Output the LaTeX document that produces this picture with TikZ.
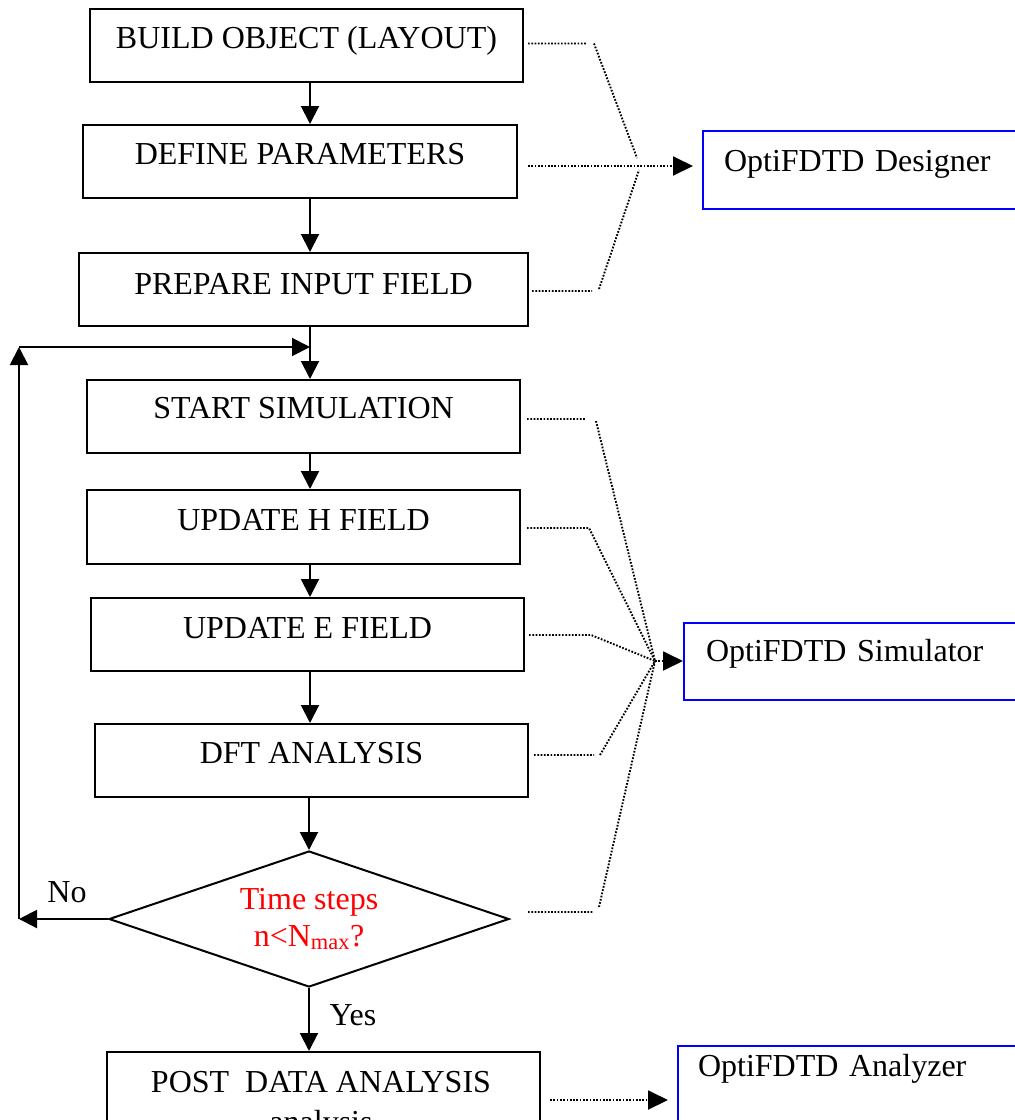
\documentclass[tikz,border=0pt]{standalone}
\usepackage{fontspec}
\setmainfont{Liberation Serif}
\usetikzlibrary{arrows.meta,shapes.geometric}
\begin{document}
\begin{tikzpicture}[x=1pt,y=-1pt,
  font=\fontsize{32}{37}\selectfont,
  box/.style={draw, line width=2pt, inner xsep=0pt, inner ysep=0pt, anchor=north west},
  bluebox/.style={draw=blue, line width=2pt, inner ysep=0pt, anchor=north west, align=left, text width=300pt},
  arr/.style={line width=2pt, -{Triangle[length=18pt,width=18pt]}},
  dotline/.style={line width=1.9pt, dash pattern=on 1.7pt off 1.6pt},
  dotarr/.style={dotline, -{Triangle[length=20pt,width=19pt]}},
  lbl/.style={anchor=base, inner sep=0pt}
]
\useasboundingbox (0,0) rectangle (1015,1120);
\clip (0,0) rectangle (1015,1120);

% main flow boxes
\node[box, minimum width=433pt, minimum height=73pt, text height=39pt, text depth=34pt] (b1) at (89,8) {BUILD OBJECT (LAYOUT)};
\node[box, minimum width=434pt, minimum height=73pt, text height=39pt, text depth=34pt] (b2) at (82,124) {DEFINE PARAMETERS};
\node[box, minimum width=449pt, minimum height=73pt, text height=41pt, text depth=32pt] (b3) at (78,252) {PREPARE INPUT FIELD};
\node[box, minimum width=433pt, minimum height=73pt, text height=38pt, text depth=35pt] (b4) at (86,379) {START SIMULATION};
\node[box, minimum width=433pt, minimum height=74pt, text height=40pt, text depth=34pt] (b5) at (86,489) {UPDATE H FIELD};
\node[box, minimum width=433pt, minimum height=73pt, text height=40pt, text depth=33pt] (b6) at (90,597) {UPDATE E FIELD};
\node[box, minimum width=433pt, minimum height=73pt, text height=39pt, text depth=34pt] (b7) at (94,723) {DFT ANALYSIS};
\node[draw, diamond, aspect=2.9, line width=2pt, minimum width=400pt, minimum height=136pt, inner sep=0pt, text=red, align=center] (dia) at (309,919) {Time steps\\n<N\textsubscript{max}?};
\node[box, minimum width=433pt, minimum height=120pt] (b8) at (106,1051) {};
\node[lbl] (t8a) at (321,1092) {POST\ \ DATA ANALYSIS};
\node[lbl] (t8b) at (321,1132) {analysis};

% tool boxes
\node[bluebox, inner xsep=21pt, text height=40pt, text depth=38pt] (dsg) at (702,130) {OptiFDTD Designer};
\node[bluebox, inner xsep=22pt, text height=38pt, text depth=39pt] (sim) at (683,622) {OptiFDTD Simulator};
\node[bluebox, inner xsep=20pt, text height=30pt, text depth=60pt] (ana) at (677,1045) {OptiFDTD Analyzer};

% labels
\node[lbl] (no) at (67,902) {No};
\node[lbl] (yes) at (353,1025) {Yes};

% solid flow arrows
\coordinate (ax) at (310,0);
\draw[arr] (b1.south -| ax) -- (b2.north -| ax);
\draw[arr] (b2.south -| ax) -- (b3.north -| ax);
\draw[arr] (b3.south -| ax) -- (b4.north -| ax);
\draw[arr] (b4.south -| ax) -- (b5.north -| ax);
\draw[arr] (b5.south -| ax) -- (b6.north -| ax);
\draw[arr] (b6.south -| ax) -- (b7.north -| ax);
\draw[arr] (b7.south -| dia.north) -- (dia.north);
\draw[arr] (dia.south) -- (b8.north -| dia.south);

% loop back
\coordinate (lpB) at (19,919);
\coordinate (lpT) at (19,347);
\draw[arr] (dia.west) -- (lpB);
\draw[arr] (lpB) -- (lpT);
\draw[arr] (lpT) -- (lpT -| ax);

% dotted to Designer
\coordinate (cD1) at (637,158);
\coordinate (cD) at (638,166);
\coordinate (cD2) at (639,170);
\draw[dotline] (b1.east) ++(4,-2) -- ++(59,0) ++(7,0) -- (cD1);
\draw[dotarr, shorten <=10pt, shorten >=9pt] (b2.east |- cD) -- (dsg.west |- cD);
\draw[dotline] (b3.east) ++(3,1.5) -- ++(60,0) ++(7,-2) -- (cD2);

% dotted to Simulator
\coordinate (cS) at (655,661);
\draw[dotline] (b4.east) ++(6,2.5) -- ++(58,0) ++(11,2) -- (cS);
\draw[dotline] (b5.east) ++(6,1) -- ++(62,0) -- (cS);
\draw[dotline] (b6.east) ++(4,0.5) -- ++(62,0) -- (cS);
\draw[dotline] (b7.east) ++(5,-5.5) -- ++(60,0) ++(6,0) -- (cS);
\draw[dotline] (dia.east) ++(18,-7) -- ++(65,0) ++(6,-5) -- (cS);
\draw[dotarr] (cS) -- (sim.west |- cS);

% dotted to Analyzer
\coordinate (cA) at (600,1100);
\draw[dotarr, shorten <=9pt, shorten >=9pt] (b8.east |- cA) -- (ana.west |- cA);
\end{tikzpicture}
\end{document}
